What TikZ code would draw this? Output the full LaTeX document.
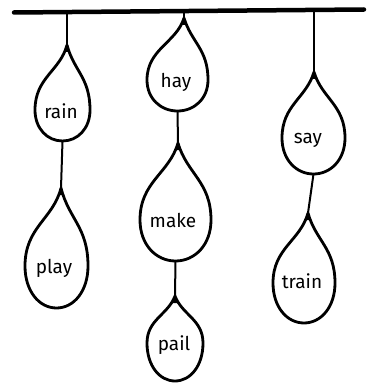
\documentclass[tikz,border=0pt]{standalone}
\usepackage{fontspec}
\setmainfont{Fira Sans}
\usetikzlibrary{calc}

\tikzset{
  bar/.style={line width=4.5pt,line cap=round},
  cord/.style={line width=2pt,line cap=round},
  dropline/.style={line width=2.8pt,line join=round},
  word/.style={font=\fontsize{19}{19}\selectfont,inner sep=0pt}
}

% #1 name, #2 #3 tip, #4 centre x, #5 widest y, #6 half width, #7 bottom y
\newcommand{\teardrop}[7]{%
  \draw[dropline] (#2,#3)
    .. controls ({#2-0.25*#6},{#3+0.4*(#5-#3)}) and ({#4-#6},{#5-0.5*(#5-#3)}) .. ({#4-#6},#5)
    .. controls ({#4-#6},{#5+0.6*(#7-#5)}) and ({#4-0.55*#6},#7) .. (#4,#7)
    .. controls ({#4+0.55*#6},#7) and ({#4+#6},{#5+0.6*(#7-#5)}) .. ({#4+#6},#5)
    .. controls ({#4+#6},{#5-0.5*(#5-#3)}) and ({#2+0.25*#6},{#3+0.4*(#5-#3)}) .. (#2,#3) -- cycle;
  \fill (#2-2.2,#3+7) -- (#2,#3-1) -- (#2+2.2,#3+7) -- cycle;
  \coordinate (#1-t) at (#2,#3);
  \coordinate (#1-b) at (#4,#7);
}

\begin{document}
\begin{tikzpicture}[x=1pt,y=-1pt]
\useasboundingbox (0,0) rectangle (372,385);

% the rod
\coordinate (rodL) at (14,12.5);
\coordinate (rodR) at (364,9.5);
\draw[bar] (rodL) -- (rodR);
\coordinate (h1) at (67,12);
\coordinate (h2) at (184,11);
\coordinate (h3) at (314,10);

% drops
\teardrop{rain}{67}{45}{62.5}{110}{27.5}{141}
\teardrop{play}{61}{188}{56.5}{266}{31.5}{308}
\teardrop{hay}{184}{18}{177.5}{80}{30.5}{111}
\teardrop{make}{178}{143}{175.5}{220}{35.5}{261}
\teardrop{pail}{175}{296}{175}{343}{28}{381}
\teardrop{say}{314}{72}{313.5}{138}{31.5}{174}
\teardrop{train}{308}{213}{304}{283}{31}{323}

% strings
\draw[cord] (h1) -- (rain-t);
\draw[cord] (rain-b) -- (play-t);
\draw[cord] (h2) -- (hay-t);
\draw[cord] (hay-b) -- (make-t);
\draw[cord] (make-b) -- (pail-t);
\draw[cord] (h3) -- (say-t);
\draw[cord] (say-b) -- (train-t);

% words
\node[word] (wrain)  at (61,111)  {rain};
\node[word] (whay)   at (176,82)  {hay};
\node[word] (wsay)   at (308,140) {say};
\node[word] (wplay)  at (54,268)  {play};
\node[word] (wmake)  at (173,220) {make};
\node[word] (wtrain) at (302,281) {train};
\node[word] (wpail)  at (174,345) {pail};

\end{tikzpicture}
\end{document}
